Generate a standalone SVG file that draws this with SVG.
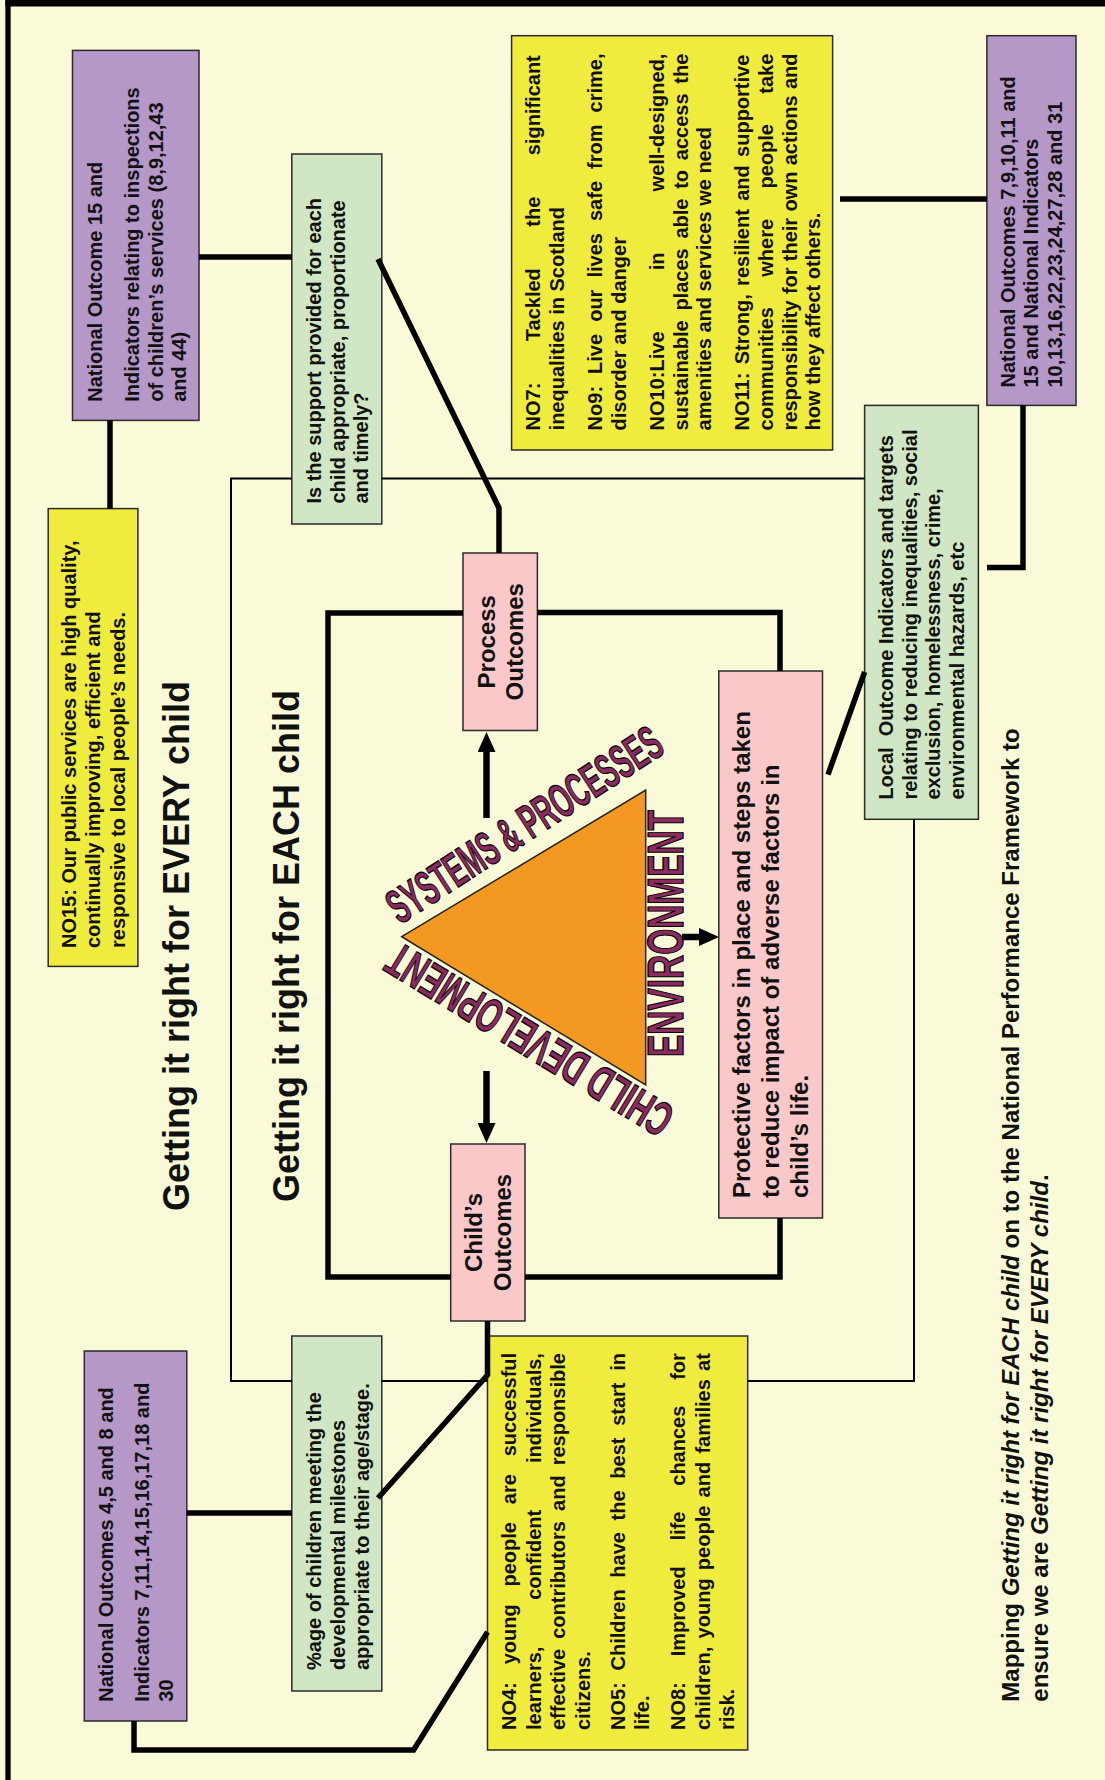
<svg xmlns="http://www.w3.org/2000/svg" width="1105" height="1780" viewBox="0 0 1105 1780">
<style>
.bg{fill:#FBFAD8}
.box{stroke:#2a2a2a;stroke-width:1.5}
.pu{fill:#B597C8}
.gr{fill:#D0E6C4}
.ye{fill:#F0EC3E}
.pk{fill:#FAC8C8}
text{font-family:"Liberation Sans",Arial,Helvetica,sans-serif;font-weight:bold;fill:#111}
.s20{font-size:20px}
.s24{font-size:24px}
.s36{font-size:36px}
.it{font-style:italic}
.wa{fill:#8B2A60;stroke:#000;stroke-width:1.3}
.tri{fill:#F39821;stroke:#222;stroke-width:1.5}
.thick{stroke:#000;stroke-width:5.5;fill:none;stroke-linejoin:miter}
.thin{stroke:#000;stroke-width:2;fill:none}
.arrow{stroke:#000;stroke-width:6.5;fill:none}
.edge{stroke:#000;fill:none}
</style>
<defs>
<marker id="arr" viewBox="0 -9 20 18" refX="0" refY="0" markerWidth="20" markerHeight="18" markerUnits="userSpaceOnUse" orient="auto">
<path d="M0,-9 L20,0 L0,9 z" fill="#000"/>
</marker>
</defs>
<rect class="bg" x="0" y="0" width="1105" height="1780"/>
<g id="page-frame">
<line class="edge" x1="8" y1="0" x2="8" y2="1780" stroke-width="5.3"/>
<line class="edge" x1="5.4" y1="3.2" x2="1105" y2="3.2" stroke-width="6.4"/>
</g>

<g id="node-no15-indicators">
<rect class="box pu" x="72.5" y="50.4" width="126.5" height="370"/>
<g transform="translate(72.5,420.4) rotate(-90)">
<text class="s20" x="18.6" y="29.3">National Outcome 15 and</text>
<text class="s20" x="18.6" y="66">Indicators relating to inspections</text>
<text class="s20" x="18.6" y="90">of children’s services (8,9,12,43</text>
<text class="s20" x="18.6" y="113.3">and 44)</text>
</g>
</g>

<g id="node-support">
<rect class="box gr" x="291.8" y="154" width="90" height="370"/>
<g transform="translate(291.8,524) rotate(-90)">
<text class="s20" x="20.4" y="29.5">Is the support provided for each</text>
<text class="s20" x="20.4" y="53">child appropriate, proportionate</text>
<text class="s20" x="20.4" y="76.5">and timely?</text>
</g>
</g>

<g id="node-no15">
<rect class="box ye" x="48.2" y="508.6" width="89.7" height="457.8"/>
<g transform="translate(48.2,966.4) rotate(-90)">
<text class="s20" x="18.4" y="27.8">NO15: Our public services are high quality,</text>
<text class="s20" x="18.4" y="52.3">continually improving, efficient and</text>
<text class="s20" x="18.4" y="76.8">responsive to local people’s needs.</text>
</g>
</g>

<g id="node-no7-11">
<rect class="box ye" x="511.6" y="35.7" width="321" height="414.3"/>
<g transform="translate(511.6,450) rotate(-90)">
<text class="s20" x="19.6" y="28.9" style="word-spacing:35.9px">NO7: Tackled the significant</text>
<text class="s20" x="19.6" y="52.6">inequalities in Scotland</text>
<text class="s20" x="19.6" y="90.6" style="word-spacing:6.5px">No9: Live our lives safe from crime,</text>
<text class="s20" x="19.6" y="114.3">disorder and danger</text>
<text class="s20" x="19.6" y="152.3" style="word-spacing:55.6px">NO10:Live in well-designed,</text>
<text class="s20" x="19.6" y="176" style="word-spacing:4.2px">sustainable places able to access the</text>
<text class="s20" x="19.6" y="199.7">amenities and services we need</text>
<text class="s20" x="19.6" y="237.7" style="word-spacing:2.8px">NO11: Strong, resilient and supportive</text>
<text class="s20" x="19.6" y="261.4" style="word-spacing:24.8px">communities where people take</text>
<text class="s20" x="19.6" y="285.1" style="word-spacing:0.7px">responsibility for their own actions and</text>
<text class="s20" x="19.6" y="308.8">how they affect others.</text>
</g>
</g>

<g id="node-no7-indicators">
<rect class="box pu" x="986.9" y="35.7" width="89.1" height="369.7"/>
<g transform="translate(986.9,405.4) rotate(-90)">
<text class="s20" x="17.9" y="28">National Outcomes 7,9,10,11 and</text>
<text class="s20" x="17.9" y="51.5">15 and National Indicators</text>
<text class="s20" x="17.9" y="75">10,13,16,22,23,24,27,28 and 31</text>
</g>
</g>

<g id="node-local">
<rect class="box gr" x="864.6" y="405.4" width="113.8" height="413.9"/>
<g transform="translate(864.6,819.3) rotate(-90)">
<text class="s20" x="19.7" y="28.4" xml:space="preserve">Local  Outcome Indicators and targets</text>
<text class="s20" x="19.7" y="52">relating to reducing inequalities, social</text>
<text class="s20" x="19.7" y="75.5">exclusion, homelessness, crime,</text>
<text class="s20" x="19.7" y="99">environmental hazards, etc</text>
</g>
</g>

<g id="node-process">
<rect class="box pk" x="463" y="553" width="74.4" height="177.5"/>
<g transform="translate(463,730.5) rotate(-90)">
<text class="s24" x="88.75" y="31.6" text-anchor="middle">Process</text>
<text class="s24" x="88.75" y="60" text-anchor="middle">Outcomes</text>
</g>
</g>

<g id="node-child">
<rect class="box pk" x="450.7" y="1144" width="74.3" height="177"/>
<g transform="translate(450.7,1321) rotate(-90)">
<text class="s24" x="88.5" y="31.3" text-anchor="middle">Child’s</text>
<text class="s24" x="88.5" y="60" text-anchor="middle">Outcomes</text>
</g>
</g>

<g id="node-protective">
<rect class="box pk" x="718.8" y="671" width="103.7" height="547"/>
<g transform="translate(718.8,1218) rotate(-90)">
<text class="s24" x="20" y="31.2">Protective factors in place and steps taken</text>
<text class="s24" x="20" y="60.2">to reduce impact of adverse factors in</text>
<text class="s24" x="20" y="89.2">child’s life.</text>
</g>
</g>

<g id="node-age">
<rect class="box gr" x="291.8" y="1336" width="90" height="355"/>
<g transform="translate(291.8,1691) rotate(-90)">
<text class="s20" x="21" y="29.2">%age of children meeting the</text>
<text class="s20" x="21" y="53.2">developmental milestones</text>
<text class="s20" x="21" y="77.2">appropriate to their age/stage.</text>
</g>
</g>

<g id="node-no4-indicators">
<rect class="box pu" x="84.3" y="1351" width="102.5" height="370"/>
<g transform="translate(84.3,1721) rotate(-90)">
<text class="s20" x="19.3" y="28.5">National Outcomes 4,5 and 8 and</text>
<text class="s20" x="19.3" y="64.7">Indicators 7,11,14,15,16,17,18 and</text>
<text class="s20" x="19.3" y="88.7">30</text>
</g>
</g>

<g id="node-no4-8">
<rect class="box ye" x="487.5" y="1336" width="260.2" height="414"/>
<g transform="translate(487.5,1750) rotate(-90)">
<text class="s20" x="20" y="28.5" style="word-spacing:12.3px">NO4: young people are successful</text>
<text class="s20" x="20" y="53" style="word-spacing:41.2px">learners, confident individuals,</text>
<text class="s20" x="20" y="77.5" style="word-spacing:4.5px">effective contributors and responsible</text>
<text class="s20" x="20" y="102">citizens.</text>
<text class="s20" x="20" y="137" style="word-spacing:6.15px">NO5: Children have the best start in</text>
<text class="s20" x="20" y="161.5">life.</text>
<text class="s20" x="20" y="197.5" style="word-spacing:20.3px">NO8: Improved life chances for</text>
<text class="s20" x="20" y="222" style="word-spacing:2.7px">children, young people and families at</text>
<text class="s20" x="20" y="246.5">risk.</text>
</g>
</g>

<g id="node-triangle">
<polygon class="tri" points="401.7,936.7 645.7,790 645.7,1085"/>
<text class="wa" font-size="48" transform="translate(400,925) rotate(-33)" textLength="318" lengthAdjust="spacingAndGlyphs">SYSTEMS &amp; PROCESSES</text>
<text class="wa" font-size="50" transform="translate(683,1057) rotate(-90)" textLength="247" lengthAdjust="spacingAndGlyphs">ENVIRONMENT</text>
<text class="wa" font-size="48" transform="translate(677,1110) rotate(211.3)" textLength="325" lengthAdjust="spacingAndGlyphs">CHILD DEVELOPMENT</text>
</g>

<g id="titles">
<text class="s36" transform="translate(188.5,1211) rotate(-90)">Getting it right for EVERY child</text>
<text class="s36" transform="translate(298.5,1202) rotate(-90)">Getting it right for EACH child</text>
<text class="s24" transform="translate(1019,1701.7) rotate(-90)">Mapping <tspan class="it">Getting it right for EACH child</tspan> on to the National Performance Framework to</text>
<text class="s24" transform="translate(1048,1701.7) rotate(-90)">ensure we are <tspan class="it">Getting it right for EVERY child</tspan>.</text>
</g>

<g id="connectors">
<path class="thin" d="M864.6,478.6 H381.8"/>
<path class="thin" d="M291.8,478.6 H231 V1381 H291.8"/>
<path class="thin" d="M381.8,1381 H487.5"/>
<path class="thin" d="M747.7,1381 H914 V819.3"/>
<path class="thick" d="M199,257 H292"/>
<path class="thick" d="M110,420.4 V508.6"/>
<path class="thick" d="M378,259 L499,508 V553"/>
<path class="thick" d="M840,199 H987"/>
<path class="thick" d="M1023,405.4 V567.5 H987"/>
<path class="thick" d="M463,613 H328 V1277 H450.7"/>
<path class="thick" d="M537.4,612.5 H780 V671"/>
<path class="thick" d="M525,1277 H780 V1218"/>
<path class="thick" d="M828,774.6 L864.6,672"/>
<path class="thick" d="M487.5,1321 V1375 L378,1498"/>
<path class="thick" d="M186.8,1513 H291.8"/>
<path class="thick" d="M134,1721 V1750 H413.6 L487.5,1632"/>
<line class="arrow" x1="486.5" y1="818" x2="486.5" y2="752" marker-end="url(#arr)"/>
<line class="arrow" x1="486.5" y1="1071" x2="486.5" y2="1123" marker-end="url(#arr)"/>
<line class="arrow" x1="682" y1="937" x2="699" y2="937" marker-end="url(#arr)"/>
</g>
</svg>
